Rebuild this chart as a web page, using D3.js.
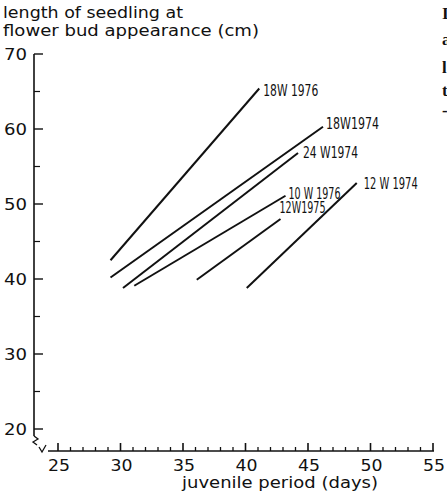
<!DOCTYPE html>
<html><head><meta charset="utf-8">
<script src="https://cdn.jsdelivr.net/npm/d3@7"></script>
<style>
html,body{margin:0;padding:0;background:#fff;overflow:hidden;}
svg{display:block;}
</style></head>
<body>
<script>
// ---- data ----
const seriesNames = ["18W 1976", "18W1974", "24 W1974", "10 W 1976", "12W1975", "12 W 1974"];
const startDays   = [29.2, 29.2, 30.2, 31.1, 36.1, 40.1];
const startLength = [42.5, 40.2, 38.8, 39.1, 39.9, 38.8];
const endDays     = [41.1, 46.2, 44.2, 43.2, 42.8, 48.9];
const endLength   = [65.4, 60.3, 56.8, 51.1, 48.0, 52.8];
const xMajorTicks = [25, 30, 35, 40, 45, 50, 55];
const yMajorTicks = [20, 30, 40, 50, 60, 70];
const yMinorTicks = [25, 35, 45, 55, 65];
const yTitle = ["length of seedling at", "flower bud appearance (cm)"];
const xTitle = "juvenile period (days)";
const edgeText = ["I", "a", "l", "t", "-"];

// ---- layout (not data) ----
const W = 447, H = 497;
const labelOffsets = [[4, 7], [3, 2], [5, 5], [3, 3], [-1, -6], [7, 6]];
const labelWidths = [55, 53, 55, 52, 46, 54];
const edgeY = [19, 45, 73, 96, 116];

const svg = d3.select("body").append("svg").attr("width", W).attr("height", H);

const x = d3.scaleLinear().domain([25, 55]).range([58, 433]);
const y = d3.scaleLinear().domain([20, 70]).range([429, 54]);

const axisX0 = 34;   // y-axis position
const axisY0 = 451;  // x-axis position

const tickFont = "'DejaVu Sans', sans-serif";

// y title
svg.selectAll("text.ytitle").data(yTitle).enter().append("text")
  .attr("x", 3).attr("y", (d, i) => 18 + i * 18)
  .attr("font-family", tickFont).attr("font-size", 15.5)
  .attr("textLength", (d, i) => i === 0 ? 180 : 256)
  .attr("lengthAdjust", "spacingAndGlyphs")
  .attr("fill", "#111").text(d => d);

// y axis
const gy = svg.append("g");
gy.append("line").attr("x1", axisX0).attr("x2", axisX0)
  .attr("y1", y(70)).attr("y2", 436)
  .attr("stroke", "#111").attr("stroke-width", 1.6);
gy.selectAll("line.ymaj").data(yMajorTicks).enter().append("line")
  .attr("x1", axisX0).attr("x2", axisX0 + 9)
  .attr("y1", d => y(d)).attr("y2", d => y(d))
  .attr("stroke", "#111").attr("stroke-width", 1.4);
gy.selectAll("line.ymin").data(yMinorTicks).enter().append("line")
  .attr("x1", axisX0).attr("x2", axisX0 + 6)
  .attr("y1", d => y(d)).attr("y2", d => y(d))
  .attr("stroke", "#111").attr("stroke-width", 1.2);
gy.selectAll("text.ylab").data(yMajorTicks).enter().append("text")
  .attr("x", 27).attr("y", d => y(d) + 6)
  .attr("text-anchor", "end")
  .attr("font-family", tickFont).attr("font-size", 16)
  .attr("textLength", 23).attr("lengthAdjust", "spacingAndGlyphs")
  .attr("fill", "#111").text(d => d);

// axis break symbol
svg.append("path")
  .attr("d", "M34,436 L38,439 L33,442 L37,445 M39,447 L42,452 L46,445 M48,451 L52,451")
  .attr("fill", "none").attr("stroke", "#111").attr("stroke-width", 1.3);

// x axis
const gx = svg.append("g");
gx.append("line").attr("x1", 52).attr("x2", x(55) + 1)
  .attr("y1", axisY0).attr("y2", axisY0)
  .attr("stroke", "#111").attr("stroke-width", 1.6);
const xMinor = d3.range(25, 56, 1).filter(v => xMajorTicks.indexOf(v) < 0);
gx.selectAll("line.xmin").data(xMinor).enter().append("line")
  .attr("x1", d => x(d)).attr("x2", d => x(d))
  .attr("y1", axisY0).attr("y2", axisY0 - 4)
  .attr("stroke", "#111").attr("stroke-width", 1.3);
gx.selectAll("line.xmaj").data(xMajorTicks).enter().append("line")
  .attr("x1", d => x(d)).attr("x2", d => x(d))
  .attr("y1", axisY0).attr("y2", axisY0 - 8)
  .attr("stroke", "#111").attr("stroke-width", 1.6);
gx.selectAll("text.xlab").data(xMajorTicks).enter().append("text")
  .attr("x", d => x(d) + 1).attr("y", 471)
  .attr("text-anchor", "middle")
  .attr("font-family", tickFont).attr("font-size", 16)
  .attr("textLength", 22).attr("lengthAdjust", "spacingAndGlyphs")
  .attr("fill", "#111").text(d => d);
svg.append("text")
  .attr("x", 182).attr("y", 488)
  .attr("font-family", tickFont).attr("font-size", 15.5)
  .attr("textLength", 196).attr("lengthAdjust", "spacingAndGlyphs")
  .attr("fill", "#111").text(xTitle);

// series lines
const series = seriesNames.map((n, i) => ({
  name: n, x1: startDays[i], y1: startLength[i], x2: endDays[i], y2: endLength[i], i
}));
svg.selectAll("line.series").data(series).enter().append("line")
  .attr("x1", d => x(d.x1)).attr("y1", d => y(d.y1))
  .attr("x2", d => x(d.x2)).attr("y2", d => y(d.y2))
  .attr("stroke", "#111").attr("stroke-width", 2);
svg.selectAll("text.series").data(series).enter().append("text")
  .attr("x", d => x(d.x2) + labelOffsets[d.i][0])
  .attr("y", d => y(d.y2) + labelOffsets[d.i][1])
  .attr("font-family", "'Liberation Sans Narrow', 'DejaVu Sans Condensed', 'Roboto Condensed', sans-serif")
  .attr("font-size", 15.5)
  .attr("textLength", d => labelWidths[d.i]).attr("lengthAdjust", "spacingAndGlyphs")
  .attr("fill", "#111").text(d => d.name);

// cut-off neighbouring page text at the right edge
svg.selectAll("text.edge").data(edgeText).enter().append("text")
  .attr("x", 442).attr("y", (d, i) => edgeY[i])
  .attr("font-family", "'Liberation Serif', serif").attr("font-weight", "bold")
  .attr("font-size", 17).attr("fill", "#111").text(d => d);
</script>
</body></html>
